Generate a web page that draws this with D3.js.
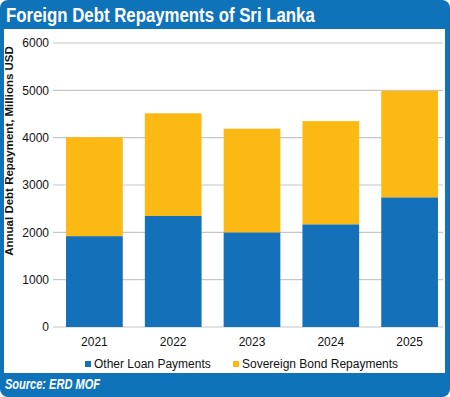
<!DOCTYPE html>
<html><head><meta charset="utf-8">
<script src="https://cdn.jsdelivr.net/npm/d3@7"></script>
<style>html,body{margin:0;padding:0;background:#fff;}svg{display:block;}</style>
</head><body>
<script>
const years = ["2021","2022","2023","2024","2025"];
const otherLoan = [1920, 2345, 2000, 2170, 2740];
const sovereignBond = [2090, 2170, 2190, 2180, 2250];
const yTicks = [0,1000,2000,3000,4000,5000,6000];
const seriesNames = ["Other Loan Payments","Sovereign Bond Repayments"];
const colors = ["#1470b8","#fdb913"];

const W=450,H=397;
const svg=d3.select("body").append("svg").attr("width",W).attr("height",H);
const frame="#0f73ba";
svg.append("rect").attr("x",0).attr("y",0).attr("width",W).attr("height",H).attr("rx",8).attr("fill",frame);
svg.append("rect").attr("x",4).attr("y",29).attr("width",441).attr("height",344).attr("fill","#fff");

function fitText(x,yb,size,italic,txt,targetW){
  const t=svg.append("text").attr("x",0).attr("y",0)
    .attr("font-family","'Liberation Sans',Arial,sans-serif")
    .attr("font-weight","bold").attr("font-style",italic?"italic":"normal")
    .attr("font-size",size).attr("fill","#fff").text(txt);
  const w=t.node().getComputedTextLength();
  t.attr("transform",`translate(${x},${yb}) scale(${targetW/w},1)`);
}
fitText(6,21.5,21,false,"Foreign Debt Repayments of Sri Lanka",309);
fitText(5,388.5,14.5,true,"Source: ERD MOF",95);

const y=d3.scaleLinear().domain([0,6000]).range([327,43]);
const x=d3.scaleBand().domain(years).range([55,449]).paddingInner(0.28).paddingOuter(0.14);

const font="'Liberation Sans',Arial,sans-serif";
svg.append("g").selectAll("line").data(yTicks).join("line")
  .attr("x1",53).attr("x2",443).attr("y1",d=>y(d)).attr("y2",d=>y(d))
  .attr("stroke","#c6c6c6").attr("stroke-width",1.2);
svg.append("g").selectAll("text").data(yTicks).join("text")
  .attr("x",49).attr("y",d=>y(d)).attr("dy","0.35em").attr("text-anchor","end")
  .attr("font-family",font).attr("font-size",12).attr("fill","#111").text(d=>d);

const rows=years.map((yr,i)=>({year:yr,other:otherLoan[i],bond:sovereignBond[i]}));
const stack=d3.stack().keys(["other","bond"])(rows);
svg.append("g").selectAll("g").data(stack).join("g").attr("fill",(d,i)=>colors[i])
  .selectAll("rect").data(d=>d).join("rect")
  .attr("x",d=>x(d.data.year)).attr("width",x.bandwidth())
  .attr("y",d=>y(d[1])).attr("height",d=>y(d[0])-y(d[1]));

svg.append("g").selectAll("text").data(years).join("text")
  .attr("x",d=>x(d)+x.bandwidth()/2).attr("y",346).attr("text-anchor","middle")
  .attr("font-family",font).attr("font-size",12).attr("fill","#111").text(d=>d);

svg.append("text").attr("transform","translate(13,151) rotate(-90)").attr("text-anchor","middle")
  .attr("font-family",font).attr("font-weight","bold").attr("font-size",11.5).attr("fill","#111")
  .text("Annual Debt Repayment, Millions USD");

const legX=[85,233];
const lg=svg.append("g").selectAll("g").data(seriesNames).join("g");
lg.append("rect").attr("x",(d,i)=>legX[i]).attr("y",361).attr("width",6).attr("height",6).attr("fill",(d,i)=>colors[i]);
lg.append("text").attr("x",(d,i)=>legX[i]+9).attr("y",367.5)
  .attr("font-family",font).attr("font-size",12).attr("fill","#111").text(d=>d);
</script>
</body></html>
